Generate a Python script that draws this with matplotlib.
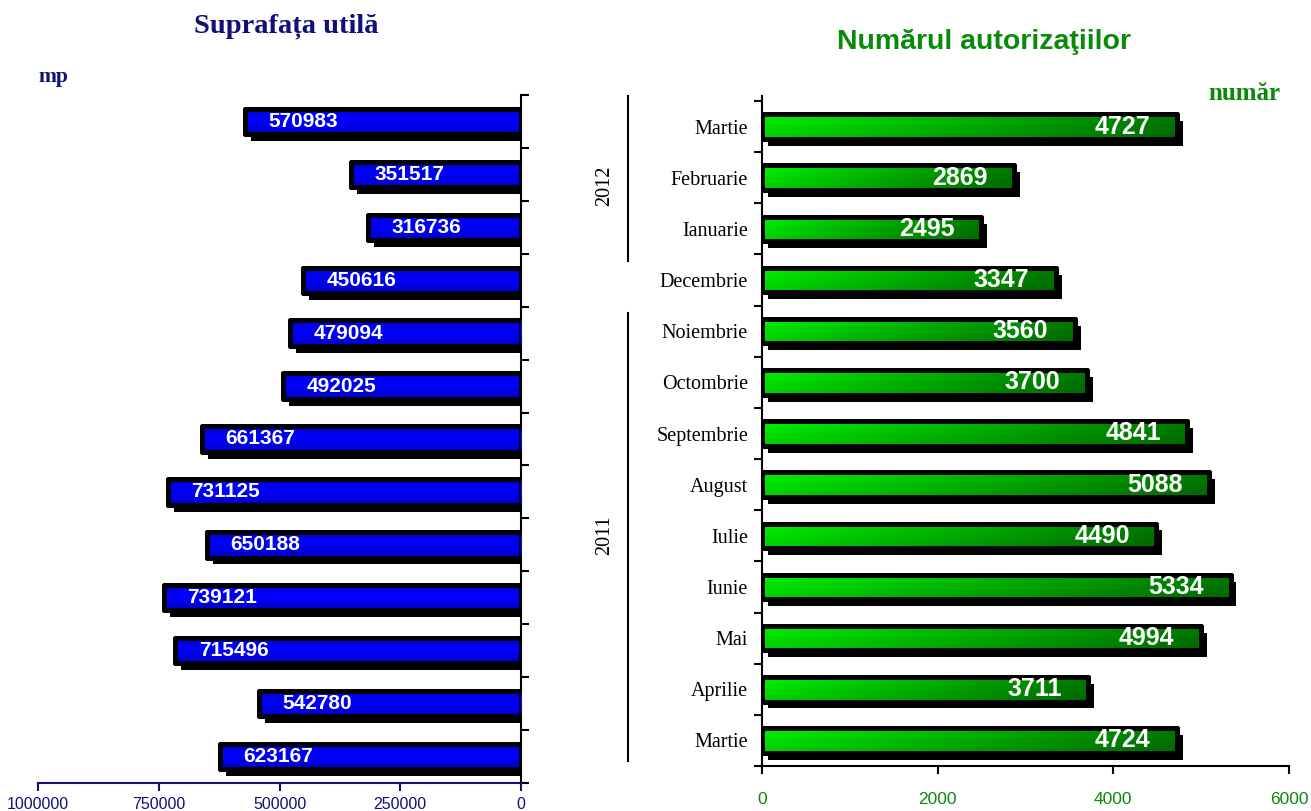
import numpy as np
import matplotlib
matplotlib.use("Agg")
import matplotlib.pyplot as plt
import matplotlib.patheffects as pe
import matplotlib.transforms as mtransforms
from matplotlib.ticker import FixedLocator, NullFormatter

# ---------------- data ----------------
months = ["Martie", "Februarie", "Ianuarie", "Decembrie", "Noiembrie", "Octombrie",
          "Septembrie", "August", "Iulie", "Iunie", "Mai", "Aprilie", "Martie"]
surface_mp = [570983, 351517, 316736, 450616, 479094, 492025, 661367,
              731125, 650188, 739121, 715496, 542780, 623167]
permits = [4727, 2869, 2495, 3347, 3560, 3700, 4841, 5088, 4490, 5334, 4994, 3711, 4724]
left_ticks = [1000000, 750000, 500000, 250000, 0]
right_ticks = [0, 2000, 4000, 6000]
years = ["2012", "2011"]

SERIF = "Liberation Serif"
SANS = "Liberation Sans"
NAVY = "#10107a"
GREEN = "#0a8a0a"

fig = plt.figure(figsize=(13.11, 8.11), dpi=100)
W, H = 1311, 811

def ax_rect(x0, y0, x1, y1):
    return [x0 / W, 1 - y1 / H, (x1 - x0) / W, (y1 - y0) / H]

n = len(months)
pos = np.arange(n)
bar_h = 0.48
LW = 3.5
shadow = [pe.SimplePatchShadow(offset=(4.3, -5), shadow_rgbFace="k", alpha=1.0), pe.Normal()]


def gradient_bars(ax, vals, grad, zorder=2):
    base = ax.barh(pos, vals, height=bar_h, color="k", edgecolor="k", linewidth=LW,
                   zorder=zorder)
    for p in base.patches:
        p.set_path_effects(shadow)
        p.set_joinstyle("round")
        x0, y0 = p.get_x(), p.get_y()
        w, h = p.get_width(), p.get_height()
        im = ax.imshow(grad, extent=(x0, x0 + w, y0 + h, y0), aspect="auto",
                       interpolation="bilinear", zorder=zorder + 1)
        im.set_clip_path(p)
    top = ax.barh(pos, vals, height=bar_h, facecolor="none", edgecolor="k", linewidth=LW,
                  zorder=zorder + 2)
    for p in top.patches:
        p.set_joinstyle("round")


# ---------------- left chart ----------------
axL = fig.add_axes(ax_rect(38, 95, 521, 783))
t = np.linspace(0, 1, 64)
prof = np.clip(1.0 - np.abs(t - 0.45) * 1.1, 0, 1) ** 0.6
blue = np.zeros((64, 2, 3))
blue[:, :, 2] = (0.45 + 0.55 * prof)[:, None]
gradient_bars(axL, surface_mp, blue)
axL.set_xlim(1000000, 0)
axL.set_ylim(n - 0.5, -0.5)
for s in ["top", "left"]:
    axL.spines[s].set_visible(False)
axL.spines["right"].set_color("k")
axL.spines["right"].set_linewidth(1.5)
axL.spines["bottom"].set_color(NAVY)
axL.spines["bottom"].set_linewidth(1.5)
axL.yaxis.tick_right()
axL.yaxis.set_major_locator(FixedLocator([]))
axL.yaxis.set_minor_locator(FixedLocator(np.arange(-0.5, n, 1.0)))
axL.yaxis.set_minor_formatter(NullFormatter())
axL.tick_params(axis="y", which="minor", right=True, left=False, length=6, width=1.5,
                color="k", direction="out")
axL.set_xticks(left_ticks)
axL.set_xticklabels([str(v) for v in left_ticks])
axL.tick_params(axis="x", length=6, width=1.5, color=NAVY, labelcolor=NAVY,
                labelsize=11.5, pad=4)
for lab in axL.get_xticklabels():
    lab.set_fontfamily(SANS)
for i, v in enumerate(surface_mp):
    axL.annotate(str(v), xy=(v, i), xytext=(17, 0), textcoords="offset points",
                 ha="left", va="center", color="white", fontsize=15,
                 fontweight="bold", family=SANS, zorder=10)

# ---------------- right chart ----------------
axR = fig.add_axes(ax_rect(762, 101, 1289, 766))
g = np.linspace(0, 1, 64)
green = np.zeros((16, 64, 3))
vert = np.linspace(1.0, 0.85, 16)[:, None]
green[:, :, 1] = (0.95 - 0.47 * g)[None, :] * vert
gradient_bars(axR, permits, green)
axR.set_xlim(0, 6000)
axR.set_ylim(n - 0.5, -0.5)
for s in ["top", "right"]:
    axR.spines[s].set_visible(False)
axR.spines["left"].set_linewidth(1.5)
axR.spines["left"].set_bounds(n - 0.5, -0.6)
axR.spines["bottom"].set_linewidth(1.5)
axR.set_yticks(pos)
axR.set_yticklabels(months, family=SERIF, fontsize=14.5)
axR.tick_params(axis="y", which="major", length=0, pad=10)
axR.yaxis.set_minor_locator(FixedLocator(np.arange(-0.5, n, 1.0)))
axR.tick_params(axis="y", which="minor", left=True, length=6, width=1.5, direction="out")
axR.set_xticks(right_ticks)
axR.set_xticklabels([str(v) for v in right_ticks], family=SANS)
axR.tick_params(axis="x", length=6, width=1.5, labelcolor=GREEN, labelsize=12.5, pad=13)
for i, v in enumerate(permits):
    axR.annotate(str(v), xy=(v, i), xytext=(-19, 0), textcoords="offset points",
                 ha="right", va="center", color="white", fontsize=18,
                 fontweight="bold", family=SANS, zorder=10)

# year group brackets (2012: first three months; 2011 line starts below December)
tr = mtransforms.blended_transform_factory(axR.transAxes, axR.transData)
bracket_spans = [(-0.6, 2.63), (3.64, 12.4)]
label_centres = [1.15, 7.98]
for yr, (y0, y1), yc in zip(years, bracket_spans, label_centres):
    axR.plot([-0.254, -0.254], [y0, y1], transform=tr, clip_on=False, color="k", lw=1.5)
    axR.text(-0.298, yc, yr, transform=tr,
             rotation=90, ha="center", va="center", family=SERIF, fontsize=14.5)

# ---------------- titles ----------------
fig.text(286 / W, 1 - 26 / H, "Suprafața utilă", ha="center", va="center",
         family=SERIF, fontweight="bold", fontsize=20.5, color=NAVY)
fig.text(984 / W, 1 - 42 / H, "Numărul autorizaţiilor", ha="center", va="center",
         family=SANS, fontweight="bold", fontsize=20.5, color=GREEN)
fig.text(53 / W, 1 - 77 / H, "mp", ha="center", va="center",
         family=SERIF, fontweight="bold", fontsize=15.5, color=NAVY)
fig.text(1244 / W, 1 - 94 / H, "număr", ha="center", va="center",
         family=SERIF, fontweight="bold", fontsize=18, color=GREEN)

fig.savefig("out.png", dpi=100)
